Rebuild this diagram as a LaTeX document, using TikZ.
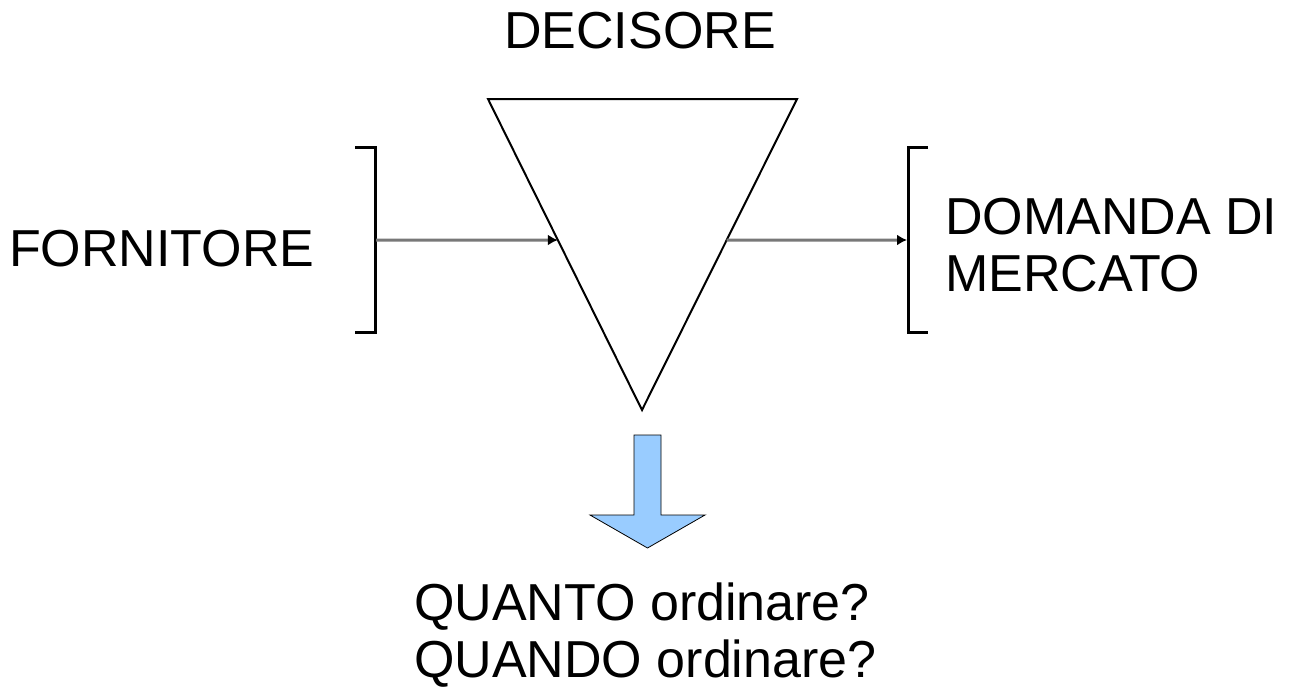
\documentclass[tikz,border=0pt]{standalone}
\usepackage{fontspec}
\setmainfont{Liberation Sans}
\usepackage{tikz}
\usetikzlibrary{arrows.meta}
\usetikzlibrary{calc}

\definecolor{freccia}{RGB}{153,204,255}
\definecolor{linea}{RGB}{120,120,120}

\tikzset{
  testo/.style={inner sep=0pt, font=\fontsize{52}{57}\selectfont},
  parentesi/.style={line width=3pt},
  flusso/.style={draw=linea, line width=3pt,
    -{Latex[length=10pt,width=11pt,black]}},
}

\begin{document}
\begin{tikzpicture}[x=1pt,y=-1pt]
    \useasboundingbox (0,0) rectangle (1298,686);
    % decisore
    \coordinate (dtl) at (488,99);
    \coordinate (dtr) at (797,99);
    \coordinate (dap) at (642,410);
    \draw[line width=2pt, line join=miter] (dtl) -- (dtr) -- (dap) -- cycle;
    \node[testo, anchor=base] (decisore) at (640,48) {DECISORE};
    % fornitore
    \node[testo, anchor=base west] (fornitore) at (9,266) {FORNITORE};
    \coordinate (fa) at (355,147);
    \coordinate (fb) at (355,332);
    \draw[parentesi] (fa) -- ++(20,0) |- (fb);
    % domanda di mercato
    \node[testo, anchor=base west, align=left] (domanda) at (945,291)
      {DOMANDA DI\\MERCATO};
    \coordinate (ma) at (928,147);
    \coordinate (mb) at (928,332);
    \draw[parentesi] (ma) -- ++(-20,0) |- (mb);
    % flussi
    \coordinate (fout) at (376,240);
    \coordinate (fin) at ($(dtl)!0.4534!(dap)$);
    \coordinate (mout) at ($(dtr)!0.4534!(dap)$);
    \coordinate (min) at (907,240);
    \draw[flusso] (fout) -- (fin);
    \draw[flusso] (mout) -- (min);
    % freccia verso le domande
    \draw[fill=freccia, line width=0.8pt, line join=miter]
      (634,435) -- (661,435) -- (661,515) -- (705,515) -- (647.5,548)
      -- (590,515) -- (634,515) -- cycle;
    \node[testo, anchor=base west, align=left] (domande) at (414,677)
      {QUANTO ordinare?\\QUANDO ordinare?};
  \end{tikzpicture}
\end{document}
